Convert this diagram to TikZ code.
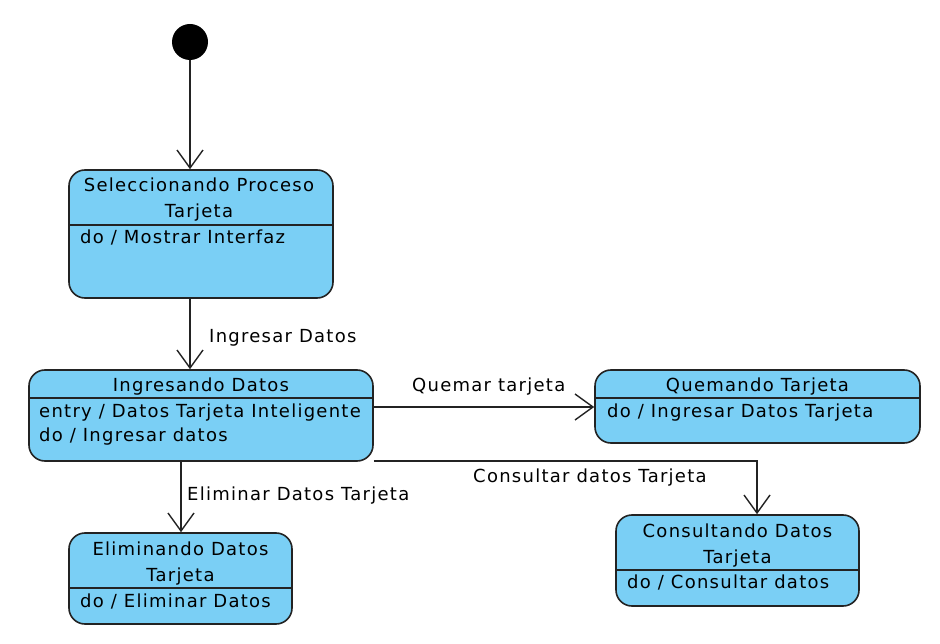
\documentclass[tikz,border=0pt]{standalone}
\usepackage{fontspec}
\setmainfont{DejaVu Sans}[LetterSpace=7]
\usetikzlibrary{arrows.meta}
\definecolor{statefill}{RGB}{122,207,245}
\definecolor{edgecol}{RGB}{35,35,35}
\begin{document}
\begin{tikzpicture}[x=1pt,y=-1pt,
  statebox/.style={draw=edgecol, line width=1.6pt, fill=statefill, rounded corners=16pt, inner sep=0pt},
  txt/.style={inner sep=0pt, font=\fontsize{18}{24}\selectfont, text=black},
  flow/.style={draw=edgecol, line width=1.4pt, -{Straight Barb[length=18pt,width=26pt,line width=1.4pt]}},
  divider/.style={draw=edgecol, line width=1.6pt},
  initstate/.style={circle, fill=black, minimum size=36pt, inner sep=0pt}]
\useasboundingbox[fill=white] (0,0) rectangle (940,644);

% initial state
\node[initstate] (init) at (190,42) {};

% Seleccionando Proceso Tarjeta
\node[statebox, minimum width=264pt, minimum height=128pt] (b1) at (201,234) {};
\draw[divider] (b1.west |- 0,225) -- (b1.east |- 0,225);
\node[txt, anchor=base] (t1a) at (199,192) {Seleccionando Proceso};
\node[txt, anchor=base] (t1b) at (199,218) {Tarjeta};
\node[txt, anchor=base west] (t1c) at (80,244) {do / Mostrar Interfaz};

% Ingresando Datos
\node[statebox, minimum width=344pt, minimum height=91pt] (b2) at (201,415.5) {};
\draw[divider] (b2.west |- 0,398) -- (b2.east |- 0,398);
\node[txt, anchor=base] (t2a) at (201,391) {Ingresando Datos};
\node[txt, anchor=base west] (t2b) at (39,417) {entry / Datos Tarjeta Inteligente};
\node[txt, anchor=base west] (t2c) at (39,441) {do / Ingresar datos};

% Eliminando Datos Tarjeta
\node[statebox, minimum width=223pt, minimum height=91pt] (b3) at (180.5,578.5) {};
\draw[divider] (b3.west |- 0,588) -- (b3.east |- 0,588);
\node[txt, anchor=base] (t3a) at (180.5,555) {Eliminando Datos};
\node[txt, anchor=base] (t3b) at (180.5,581) {Tarjeta};
\node[txt, anchor=base west] (t3c) at (80,607) {do / Eliminar Datos};

% Quemando Tarjeta
\node[statebox, minimum width=325pt, minimum height=73pt] (b4) at (757.5,406.5) {};
\draw[divider] (b4.west |- 0,398) -- (b4.east |- 0,398);
\node[txt, anchor=base] (t4a) at (757.5,391) {Quemando Tarjeta};
\node[txt, anchor=base west] (t4b) at (607,417) {do / Ingresar Datos Tarjeta};

% Consultando Datos Tarjeta
\node[statebox, minimum width=243pt, minimum height=91pt] (b5) at (737.5,560.5) {};
\draw[divider] (b5.west |- 0,570) -- (b5.east |- 0,570);
\node[txt, anchor=base] (t5a) at (737.5,537) {Consultando Datos};
\node[txt, anchor=base] (t5b) at (737.5,563) {Tarjeta};
\node[txt, anchor=base west] (t5c) at (627,588) {do / Consultar datos};

% transitions
\draw[flow] (init) -- (init |- b1.north);
\draw[flow] (b1.south -| init) -- (b2.north -| init);
\node[txt, anchor=base west] (l1) at (209,343) {Ingresar Datos};

\draw[flow] ([xshift=0.5pt]b3.north |- b2.south) -- ([xshift=0.5pt]b3.north);
\node[txt, anchor=base west] (l2) at (187,500) {Eliminar Datos Tarjeta};

\draw[flow] (b2.east |- 0,407) -- (b4.west |- 0,407);
\node[txt, anchor=base west] (l3) at (412,391) {Quemar tarjeta};

\draw[flow] (b2.east |- 0,461) -| ([xshift=19.5pt]b5.north);
\node[txt, anchor=base west] (l4) at (473,482) {Consultar datos Tarjeta};
\end{tikzpicture}
\end{document}
